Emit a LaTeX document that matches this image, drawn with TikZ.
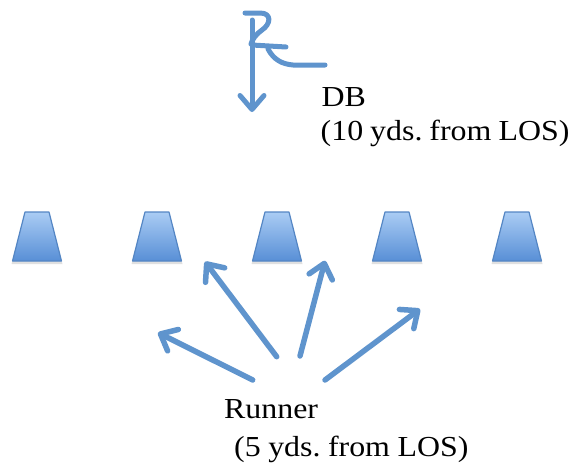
\documentclass[tikz,border=0pt]{standalone}
\usepackage{fontspec}
\setmainfont{Liberation Serif}[FakeStretch=1.1]
\usetikzlibrary{arrows.meta}
\definecolor{arrowblue}{RGB}{95,148,205}
\definecolor{trapborder}{RGB}{84,134,196}
\definecolor{traptop}{RGB}{170,204,244}
\definecolor{trapbot}{RGB}{88,143,214}
\tikzset{
  lineman/.style={draw=trapborder, line width=1.2pt, line join=round,
    top color=traptop, bottom color=trapbot},
  trapshadow/.style={fill=black, opacity=0.12},
  route/.style={draw=arrowblue, line width=5.5pt, line cap=round, line join=round,
    -{Straight Barb[length=14pt,width=24pt,round]}},
  stroke/.style={draw=arrowblue, line width=5pt, line cap=round, line join=round},
  lbl/.style={font=\fontsize{29}{34}\selectfont, anchor=base west, inner sep=0pt}
}
\begin{document}
\begin{tikzpicture}[x=1pt,y=-1pt]
\useasboundingbox (0,0) rectangle (576,464);
% linemen
\foreach \x in {37,157,277,397,517} {
  \path[trapshadow] (\x-12,215) -- (\x+12,215) -- (\x+25.5,264) -- (\x-25.5,264) -- cycle;
  \path[lineman] (\x-12,212) -- (\x+12,212) -- (\x+24.5,261) -- (\x-24.5,261) -- cycle;
}
% DB symbol
\coordinate (dbtop) at (252,20);
\coordinate (dbtip) at (252,112);
\draw[route, line width=5pt] (dbtop) -- (dbtip);
\draw[stroke] (245,13) -- (260,13) .. controls (272,13) and (271,24) .. (262,30)
   .. controls (256,34) and (252,40) .. (251,44);
\draw[stroke] (252,45) -- (286,47);
\draw[stroke] (268,49) .. controls (274,60) and (282,64) .. (293,65) -- (325,65);
% runner routes
\coordinate (s1) at (252.7,380);  \coordinate (e1) at (158,332.7);
\coordinate (s2) at (276.7,356.7); \coordinate (e2) at (205,261.7);
\coordinate (s3) at (300,356);    \coordinate (e3) at (325,260.7);
\coordinate (s4) at (325,380);    \coordinate (e4) at (420,309);
\draw[route] (s1) -- (e1);
\draw[route] (s2) -- (e2);
\draw[route] (s3) -- (e3);
\draw[route] (s4) -- (e4);
% labels
\node[lbl] (db) at (321.5,106.7) {DB};
\node[lbl] (dbd) at (320.5,140.7) {(10\hspace{7pt}yds.\hspace{7pt}from\hspace{7pt}LOS)};
\node[lbl] (run) at (224,418) {Runner};
\node[lbl] (rund) at (234,456.7) {(5\hspace{7.5pt}yds.\hspace{7.5pt}from\hspace{7.5pt}LOS)};
\end{tikzpicture}
\end{document}
